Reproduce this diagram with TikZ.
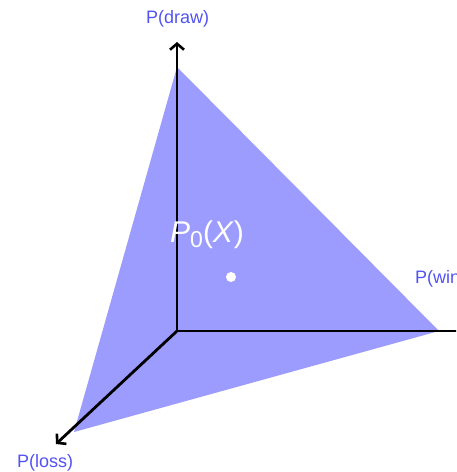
\documentclass[tikz,border=0pt]{standalone}
\usepackage{fontspec}
\setmainfont{Liberation Sans}
\usetikzlibrary{arrows.meta}
\definecolor{simplex}{HTML}{9C9CFF}
\definecolor{lab}{HTML}{5252F5}
\tikzset{
  axis/.style={line width=2.8pt, black, -{Straight Barb[length=6pt,width=14pt,line width=2.6pt]}},
  axislabel/.style={text=lab, font=\fontsize{18}{18}\selectfont, inner sep=0pt, anchor=base west},
}
\begin{document}
\begin{tikzpicture}[x=1pt,y=-1pt]
\useasboundingbox (0,0) rectangle (456,472);
\begin{scope}
\clip (0,0) rectangle (456,472);
\coordinate (O) at (177,331);
\coordinate (T) at (177,67);
\coordinate (R) at (439,331);
\coordinate (L) at (74,432);
\coordinate (Ttip) at (177,42);
\coordinate (Rend) at (470,331);
\coordinate (Ltip) at (56,444);
\fill[simplex] (T) -- (R) -- (L) -- cycle;
\draw[axis] (O) -- (Ttip);
\draw[line width=2.8pt] (O) -- (Rend);
\draw[axis] (O) -- (Ltip);
\node[axislabel] (draw) at (146,23) {P(draw)};
\node[axislabel] (win) at (415,283) {P(win)};
\node[axislabel] (loss) at (17,467) {P(loss)};
\node[text=white, font=\fontsize{30}{30}\selectfont, inner sep=0pt, anchor=base west] (p0) at (170,242) {\textit{P}\raisebox{-5pt}{\fontsize{23}{23}\selectfont 0}(\textit{X})};
\fill[white] (231,277) circle (5) node (dot) {};
\end{scope}
\end{tikzpicture}
\end{document}
